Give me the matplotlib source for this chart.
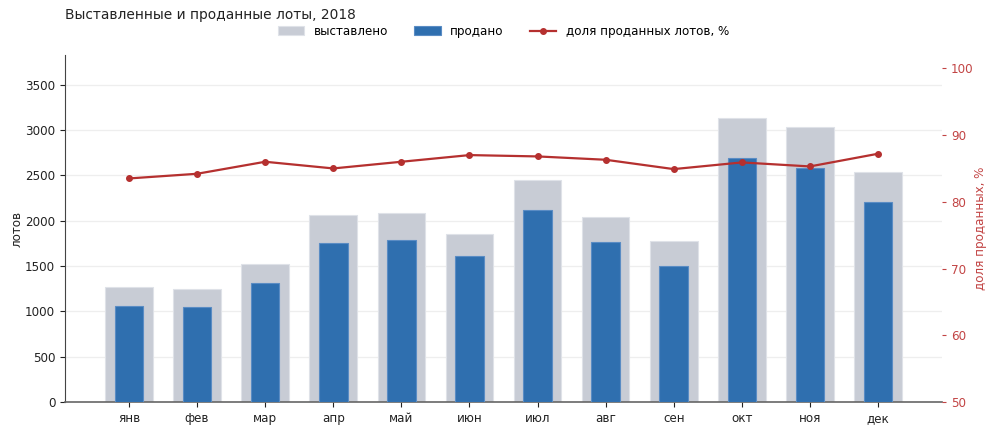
import numpy as np
import matplotlib
matplotlib.use("Agg")
import matplotlib.pyplot as plt

months = ["янв", "фев", "мар", "апр", "май", "июн",
          "июл", "авг", "сен", "окт", "ноя", "дек"]
listed = [1268, 1246, 1518, 2066, 2081, 1853, 2445, 2044, 1772, 3136, 3033, 2536]
sold = [1059, 1048, 1309, 1750, 1790, 1610, 2121, 1761, 1500, 2691, 2588, 2209]
share_pct = [83.5, 84.2, 86.0, 85.0, 86.0, 87.0, 86.8, 86.3, 84.9, 85.9, 85.3, 87.2]

GRAY = "#c8ccd5"
BLUE = "#2f6faf"
RED = "#b5302f"
RED_AX = "#c24444"
TXT = "#222222"
FS = 8.6

plt.rcParams["font.family"] = ["DejaVu Sans"]

fig = plt.figure(figsize=(10, 4.33), dpi=100)
ax = fig.add_axes([0.065, 0.0716, 0.877, 0.8014])
x = np.arange(len(months))

b1 = ax.bar(x, listed, width=0.70, color=GRAY, edgecolor="#dfe2e8", linewidth=0.8,
            label="выставлено", zorder=2)
b2 = ax.bar(x, sold, width=0.42, color=BLUE, edgecolor="#5a8cc4", linewidth=0.8,
            label="продано", zorder=3)

ax.set_xlim(-0.94, 11.94)
ax.set_ylim(0, 3830)
ax.set_yticks(np.arange(0, 3501, 500))
ax.set_xticks(x)
ax.set_xticklabels(months)
ax.tick_params(axis="both", labelsize=FS, colors=TXT)
ax.grid(axis="y", color="#eeeeee", linewidth=0.9, zorder=0)
ax.set_axisbelow(True)
ax.set_ylabel("лотов", fontsize=FS, color=TXT, labelpad=1)
for s in ["top", "right"]:
    ax.spines[s].set_visible(False)
ax.spines["left"].set_color("#444444")
ax.spines["bottom"].set_color("#666666")
ax.spines["bottom"].set_linewidth(1.2)

ax2 = ax.twinx()
l1, = ax2.plot(x, share_pct, color=RED, linewidth=1.6, marker="o", markersize=4,
               label="доля проданных лотов, %", zorder=5)
ax2.set_ylim(50, 102)
ax2.set_yticks(np.arange(50, 101, 10))
ax2.tick_params(axis="y", labelsize=FS, colors=RED_AX, length=3)
for s in ["top", "right", "left", "bottom"]:
    ax2.spines[s].set_visible(False)
ax2.set_ylabel("доля проданных, %", fontsize=FS, color=RED_AX, labelpad=0)

ax.set_title("Выставленные и проданные лоты, 2018", loc="left", fontsize=9.9,
             color=TXT, pad=26)
ax.legend([b1, b2, l1], ["выставлено", "продано", "доля проданных лотов, %"],
          loc="upper center", bbox_to_anchor=(0.5, 1.118), ncol=3, frameon=False,
          fontsize=FS, handlelength=2.2, columnspacing=2.2)

fig.savefig("out.png", dpi=100)
